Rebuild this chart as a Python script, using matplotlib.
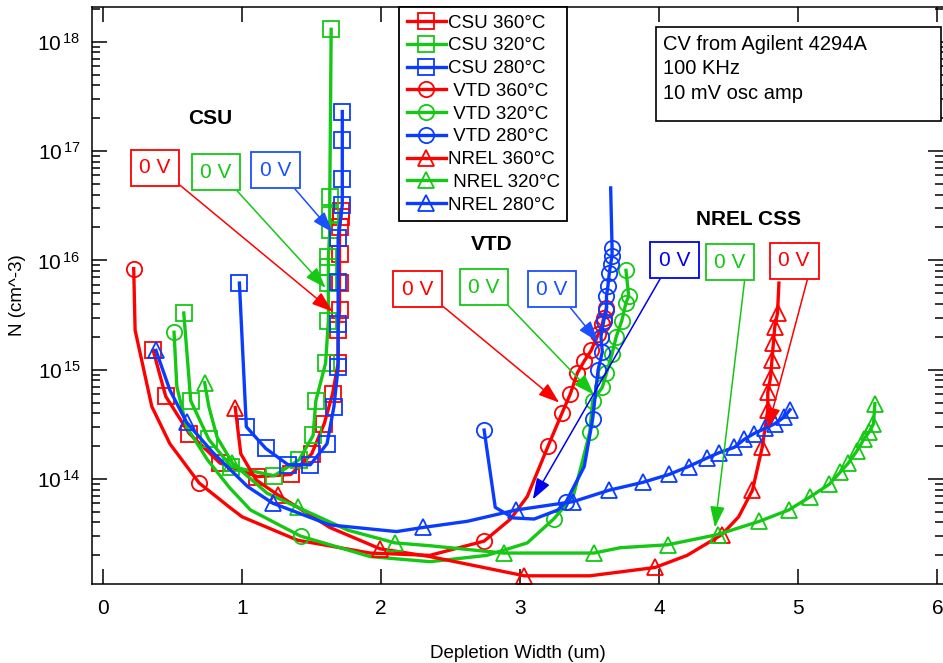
import math
import matplotlib
matplotlib.use("Agg")
import matplotlib.pyplot as plt
from matplotlib.patches import Rectangle
from matplotlib.ticker import LogLocator, FuncFormatter, NullFormatter

plt.rcParams['font.family'] = ['Liberation Sans', 'DejaVu Sans']

# --- data (depletion width in um, N in cm^-3) ---
csu360_x = [0.36, 0.45, 0.62, 0.84, 1.11, 1.35, 1.50, 1.59, 1.65, 1.69, 1.69, 1.70, 1.70, 1.70, 1.70, 1.71, 1.71]
csu360_n = [1.5e15, 5.7e14, 2.6e14, 1.4e14, 1.05e14, 1.1e14, 1.7e14, 3.2e14, 6.0e14, 1.15e15, 2.3e15,
            3.5e15, 6.2e15, 1.15e16, 2.0e16, 2.5e16, 2.8e16]

csu320_x = [0.58, 0.63, 0.76, 0.92, 1.23, 1.41, 1.51, 1.53, 1.60, 1.62, 1.62, 1.62, 1.62, 1.63, 1.63, 1.63, 1.64]
csu320_n = [3.3e15, 5.2e14, 2.3e14, 1.3e14, 1.07e14, 1.5e14, 2.5e14, 5.2e14, 1.15e15, 2.8e15, 6.2e15,
            8.7e15, 1.07e16, 1.9e16, 2.6e16, 3.8e16, 1.3e18]

csu280_x = [0.98, 1.03, 1.17, 1.33, 1.49, 1.61, 1.66, 1.69, 1.69, 1.69, 1.69, 1.72, 1.72, 1.72, 1.72]
csu280_n = [6.2e15, 3.0e14, 1.9e14, 1.35e14, 1.35e14, 2.1e14, 4.6e14, 1.05e15, 2.6e15, 6.4e15, 1.6e16,
            3.2e16, 5.5e16, 1.25e17, 2.3e17]

vtd360_x = [0.22, 0.23, 0.35, 0.48, 0.69, 0.91, 1.00, 1.40, 1.92, 2.35, 2.74, 2.93, 3.05, 3.20, 3.30,
            3.36, 3.41, 3.46, 3.51, 3.56, 3.59, 3.60, 3.62]
vtd360_n = [8.4e15, 2.3e15, 4.6e14, 2.1e14, 9.2e13, 5.5e13, 4.5e13, 2.75e13, 2.1e13, 2.0e13, 2.7e13, 4.3e13,
            6.9e13, 2.0e14, 4.0e14, 6.0e14, 9.3e14, 1.2e15, 1.5e15, 2.1e15, 2.6e15, 3.0e15, 3.7e15]

vtd320_x = [0.51, 0.53, 0.60, 0.75, 0.91, 1.06, 1.42, 1.92, 2.35, 2.76, 3.05, 3.24, 3.38, 3.45, 3.50,
            3.52, 3.59, 3.62, 3.66, 3.69, 3.73, 3.76, 3.78, 3.76]
vtd320_n = [2.2e15, 7.0e14, 3.0e14, 1.5e14, 8.3e13, 5.2e13, 3.0e13, 1.95e13, 1.75e13, 2.0e13, 2.6e13, 4.3e13,
            6.9e13, 1.5e14, 2.7e14, 5.2e14, 6.9e14, 9.3e14, 1.4e15, 2.0e15, 2.8e15, 4.1e15, 4.7e15, 8.1e15]

vtd280_x = [2.74, 2.82, 2.95, 3.10, 3.27, 3.33, 3.46, 3.52, 3.56, 3.59, 3.58, 3.60, 3.62, 3.62, 3.63,
            3.64, 3.65, 3.66, 3.66, 3.65]
vtd280_n = [2.8e14, 5.5e13, 4.4e13, 4.3e13, 5.2e13, 6.2e13, 1.3e14, 3.5e14, 1.0e15, 1.45e15, 2.0e15,
            2.8e15, 3.5e15, 4.7e15, 5.8e15, 7.6e15, 9.3e15, 1.1e16, 1.3e16, 4.6e16]

nrel360_x = [0.95, 0.99, 1.10, 1.26, 1.63, 1.99, 2.35, 3.03, 3.50, 3.97, 4.20, 4.45, 4.57, 4.67, 4.74,
             4.78, 4.78, 4.80, 4.81, 4.82, 4.83, 4.85, 4.86]
nrel360_n = [4.5e14, 1.7e14, 9.8e13, 7.1e13, 3.6e13, 2.3e13, 1.95e13, 1.3e13, 1.3e13, 1.55e13, 2.0e13,
             3.1e13, 4.5e13, 7.9e13, 1.95e14, 4.3e14, 6.2e14, 8.5e14, 1.23e15, 1.74e15, 2.45e15, 3.3e15, 6.2e15]

nrel320_x = [0.73, 0.76, 0.82, 0.93, 1.18, 1.40, 1.76, 2.10, 2.35, 2.88, 3.53, 3.72, 4.06, 4.42, 4.72,
             4.93, 5.08, 5.22, 5.30, 5.36, 5.42, 5.47, 5.51, 5.54, 5.55]
nrel320_n = [7.6e14, 4.6e14, 2.4e14, 1.4e14, 7.4e13, 5.5e13, 3.4e13, 2.6e13, 2.45e13, 2.1e13, 2.1e13,
             2.35e13, 2.5e13, 3.1e13, 4.1e13, 5.2e13, 6.8e13, 8.9e13, 1.15e14, 1.4e14, 1.8e14, 2.3e14,
             2.7e14, 3.2e14, 4.9e14]

nrel280_x = [0.38, 0.48, 0.60, 0.79, 1.04, 1.22, 1.63, 2.11, 2.30, 2.62, 2.97, 3.38, 3.64, 3.88, 4.07,
             4.21, 4.34, 4.43, 4.54, 4.61, 4.68, 4.76, 4.83, 4.90, 4.94]
nrel280_n = [1.5e15, 6.5e14, 3.3e14, 1.74e14, 8.5e13, 6.0e13, 3.8e13, 3.3e13, 3.6e13, 4.1e13, 5.2e13,
             6.2e13, 7.9e13, 9.3e13, 1.1e14, 1.3e14, 1.55e14, 1.74e14, 1.95e14, 2.3e14, 2.6e14, 2.9e14,
             3.2e14, 3.7e14, 4.3e14]

labels = ["CSU 360°C", "CSU 320°C", "CSU 280°C",
          " VTD 360°C", " VTD 320°C", " VTD 280°C",
          "NREL 360°C", " NREL 320°C", "NREL 280°C"]

# 0 V arrow targets (x, N)
zero_v_csu = [(1.65, 3.4e15), (1.60, 5.6e15), (1.65, 1.8e16)]
zero_v_vtd = [(3.28, 5.0e14), (3.53, 5.9e14), (3.56, 1.8e15)]
zero_v_nrel = [(3.09, 6.5e13), (4.40, 3.6e13), (4.78, 2.9e14)]

RED = '#ff0000'
GREEN = '#14c814'
BLUE = '#0a3cff'

fig = plt.figure(figsize=(9.43, 6.63), dpi=100)
ax = fig.add_axes([92 / 943, 79 / 663, 851 / 943, 577 / 663])

series = [
    (csu360_x, csu360_n, RED, 's', None),
    (csu320_x, csu320_n, GREEN, 's', None),
    (csu280_x, csu280_n, BLUE, 's', None),
    (vtd360_x, vtd360_n, RED, 'o', [0, 4, 10] + list(range(13, 23))),
    (vtd320_x, vtd320_n, GREEN, 'o', [0, 6, 11] + list(range(14, 24))),
    (vtd280_x, vtd280_n, BLUE, 'o', [0, 5] + list(range(7, 19))),
    (nrel360_x, nrel360_n, RED, '^', [0, 3, 5, 7, 9, 11] + list(range(13, 22))),
    (nrel320_x, nrel320_n, GREEN, '^', [0, 3, 5, 7, 9, 10] + list(range(12, 25))),
    (nrel280_x, nrel280_n, BLUE, '^', [0, 2, 5, 8] + list(range(10, 25))),
]

for (x, n, c, m, every), lab in zip(series, labels):
    ax.plot(x, n, color=c, lw=2.4, marker=m, ms=11, mfc='none', mec=c, mew=1.3,
            markevery=every, label=lab)

ax.set_yscale('log')
ax.set_xlim(-0.08, 6.04)
ax.set_ylim(1.094e13, 2.08e18)
ax.set_xticks(range(7))
ax.yaxis.set_major_locator(LogLocator(base=10, subs=[1.0]))
ax.yaxis.set_minor_locator(LogLocator(base=10, subs=[2, 3, 4, 5, 6, 7, 8, 9]))
ax.yaxis.set_major_formatter(FuncFormatter(lambda v, p: r'$\mathregular{10^{\,%d}}$' % round(math.log10(v))))
ax.yaxis.set_minor_formatter(NullFormatter())

ax.tick_params(which='both', direction='in', top=True, right=True, width=1.1, labelsize=15)
ax.tick_params(which='major', length=11)
ax.tick_params(which='minor', length=6)
ax.tick_params(axis='y', pad=8)
ax.tick_params(axis='x', pad=11)
ax.spines['right'].set_visible(False)
for s in ['left', 'bottom', 'top']:
    ax.spines[s].set_linewidth(1.1)

ax.set_xlabel('Depletion Width (um)', fontsize=13.5, labelpad=19)
ax.set_ylabel('N (cm^-3)', fontsize=13.5, labelpad=8)

leg = ax.legend(loc='upper left', bbox_to_anchor=(399 / 943, 1 - 7 / 663), bbox_transform=fig.transFigure,
                borderaxespad=0, fontsize=13.5, handlelength=2.1, handletextpad=0.1, labelspacing=0.3,
                borderpad=0.4, fancybox=False, framealpha=1, edgecolor='black', numpoints=1)
leg.get_frame().set_linewidth(1.3)
leg.set_zorder(10)

# info box
ax.add_patch(Rectangle((0.6627, 0.8024), 0.335, 0.163, transform=ax.transAxes, facecolor='white',
                       edgecolor='black', lw=1.2, zorder=6, clip_on=False))
ax.text(0.671, 0.952, 'CV from Agilent 4294A\n100 KHz\n10 mV osc amp', transform=ax.transAxes,
        fontsize=14.5, va='top', ha='left', linespacing=1.38, zorder=7)

# group labels
ax.text(0.1387, 0.8076, 'CSU', transform=ax.transAxes, fontsize=15, fontweight='bold', ha='center', va='center')
ax.text(0.470, 0.589, 'VTD', transform=ax.transAxes, fontsize=15, fontweight='bold', ha='center', va='center')
ax.text(0.771, 0.631, 'NREL CSS', transform=ax.transAxes, fontsize=15, fontweight='bold', ha='center', va='center')

box_pos = {
    'csu': [(0.074, 0.721), (0.1457, 0.714), (0.216, 0.7175)],
    'vtd': [(0.383, 0.511), (0.4606, 0.5147), (0.5405, 0.511)],
    'nrel': [(0.685, 0.5615), (0.7497, 0.558), (0.825, 0.5598)],
}
box_cols = {
    'csu': [RED, GREEN, '#1a50ff'],
    'vtd': [RED, GREEN, '#1a50ff'],
    'nrel': ['#0000f0', GREEN, RED],
}
relpos = {
    'csu': [(1, 0), (0.9, 0), (0.85, 0)],
    'vtd': [(1, 0), (1, 0), (0.85, 0)],
    'nrel': [(0.2, 0), (1, 0), (1, 0)],
}
targets = {'csu': zero_v_csu, 'vtd': zero_v_vtd, 'nrel': zero_v_nrel}

for key in ['csu', 'vtd', 'nrel']:
    for (bx, by), c, rp, tgt in zip(box_pos[key], box_cols[key], relpos[key], targets[key]):
        ax.annotate('0 V', xy=tgt, xycoords='data', xytext=(bx, by), textcoords='axes fraction',
                    ha='center', va='center', fontsize=15, color=c, zorder=8,
                    bbox=dict(boxstyle='square,pad=0.42', fc='white', ec=c, lw=1.3),
                    arrowprops=dict(arrowstyle='-|>,head_length=0.8,head_width=0.28', color=c, lw=1.1,
                                    relpos=rp, shrinkA=0, shrinkB=0, mutation_scale=16))

fig.savefig('out.png', dpi=100)
